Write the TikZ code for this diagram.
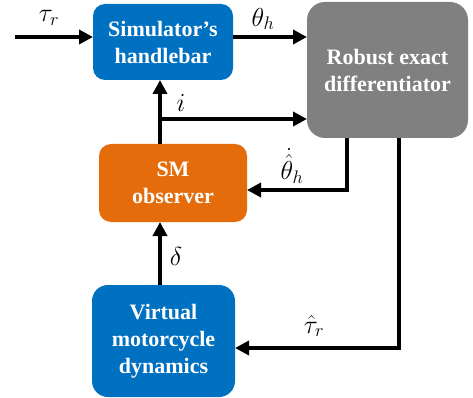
\documentclass[tikz,border=0pt]{standalone}
\usepackage{fix-cm}
\usepackage{amsmath}
\usepackage{fontspec}
\setmainfont{Liberation Serif}
\usepackage{tikz}
\usetikzlibrary{arrows.meta}
\definecolor{boxblue}{RGB}{0, 112, 192}
\definecolor{boxorange}{RGB}{228, 108, 10}
\definecolor{boxgray}{RGB}{128, 128, 128}

\begin{document}
\begin{tikzpicture}[x=1pt, y=-1pt, line width=4pt,
		blk/.style={rounded corners=12pt, text=white, font=\fontsize{22}{27}\selectfont\bfseries, align=center, inner sep=0pt, outer sep=0pt},
		sig/.style={-{Triangle[length=14pt,width=14pt]}},
		lbl/.style={inner sep=0pt, font=\fontsize{26}{30}\selectfont}]
		\useasboundingbox (0,0) rectangle (473,398);
		\node (hbar) at (163,42) [blk, fill = boxblue, minimum width=140pt, minimum height=76pt] {Simulator’s\\handlebar};
		\node (red) at (387.5,70) [blk, fill = boxgray, rounded corners=18pt, minimum width=161pt, minimum height=136pt] {Robust exact\\differentiator};
		\node (sm) at (173,183) [blk, fill = boxorange, minimum width=148pt, minimum height=78pt] {SM\\observer};
		\node (virt) at (163.5,341) [blk, fill = boxblue, rounded corners=16pt, minimum width=143pt, minimum height=112pt] {Virtual\\motorcycle\\dynamics};
		\coordinate (tin) at (15,37);
		\coordinate (br) at (160,119);
		\coordinate (d1) at (347,190);
		\coordinate (d2) at (399,348);
		\draw[sig] (tin) -- (tin -| hbar.west);
		\draw[sig] (hbar.east |- tin) -- (red.west |- tin);
		\draw[sig] (sm.north -| br) -- (hbar.south -| br);
		\draw[sig] (br) -- (red.west |- br);
		\draw[sig] (red.south -| d1) -- (d1) -- (sm.east |- d1);
		\draw[sig] (red.south -| d2) -- (d2) -- (virt.east |- d2);
		\draw[sig] (virt.north -| br) -- (sm.south -| br);
		\node (ltau) at (49,18) [lbl] {$\tau_r$};
		\node (ltheta) at (263,19) [lbl] {$\theta_h$};
		\node (li) at (181,103) [lbl] {$i$};
		\node (ldtheta) at (292,166) [lbl] {$\dot{\hat{\theta}}_h$};
		\node (lhtau) at (314,326) [lbl] {$\hat{\tau}_r$};
		\node (ldelta) at (176,256) [lbl] {$\delta$};
		\end{tikzpicture}
\end{document}
